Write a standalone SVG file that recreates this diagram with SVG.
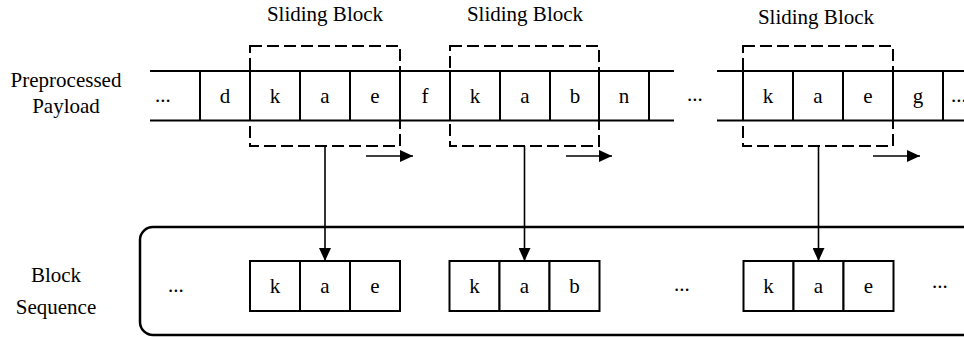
<svg xmlns="http://www.w3.org/2000/svg" width="964" height="337" viewBox="0 0 964 337">
<defs>
<style>
text{font-family:"Liberation Serif","Times New Roman",serif;font-size:21px;fill:#000;text-anchor:middle}
.dots{text-anchor:start}
.ln{stroke:#000;stroke-width:2;fill:none}
.cell{stroke:#000;stroke-width:2;fill:#fff}
.dash{stroke:#000;stroke-width:2;fill:none;stroke-dasharray:12 5}
.conn{stroke:#000;stroke-width:1.6;fill:none}
</style>
<marker id="ah" viewBox="0 0 13 12" refX="13" refY="6" markerWidth="13" markerHeight="12" markerUnits="userSpaceOnUse" orient="auto">
<path d="M0,0 L13,6 L0,12 Z" fill="#000"/>
</marker>
</defs>
<rect width="964" height="337" fill="#fff"/>

<g id="label-payload">
<text x="66" y="87">Preprocessed</text>
<text x="66" y="113">Payload</text>
</g>
<g id="label-sequence">
<text x="56" y="282">Block</text>
<text x="56" y="314">Sequence</text>
</g>

<g id="payload-strip">
<line class="ln" x1="150" y1="71" x2="674" y2="71"/>
<line class="ln" x1="150" y1="120.5" x2="674" y2="120.5"/>
<line class="ln" x1="717" y1="71" x2="964" y2="71"/>
<line class="ln" x1="717" y1="120.5" x2="964" y2="120.5"/>
<path class="ln" d="M200,71V120.5 M250,71V120.5 M300,71V120.5 M350,71V120.5 M400,71V120.5 M450,71V120.5 M500,71V120.5 M550,71V120.5 M599,71V120.5 M649,71V120.5 M743,71V120.5 M793,71V120.5 M843,71V120.5 M893,71V120.5 M943,71V120.5"/>
<text class="dots" x="155" y="102">...</text>
<text x="225" y="103">d</text>
<text x="275" y="103">k</text>
<text x="325" y="103">a</text>
<text x="375" y="103">e</text>
<text x="425" y="103">f</text>
<text x="475" y="103">k</text>
<text x="525" y="103">a</text>
<text x="575" y="103">b</text>
<text x="624" y="103">n</text>
<text class="dots" x="687" y="101">...</text>
<text x="768" y="103">k</text>
<text x="818" y="103">a</text>
<text x="868" y="103">e</text>
<text x="918" y="103">g</text>
<text class="dots" x="951" y="102">...</text>
</g>

<g id="sliding-block-1">
<rect class="dash" x="250" y="46" width="150" height="100"/>
<text x="325" y="21">Sliding Block</text>
<line class="conn" x1="366" y1="156" x2="413" y2="156" marker-end="url(#ah)"/>
</g>
<g id="sliding-block-2">
<rect class="dash" x="450" y="46" width="149" height="100"/>
<text x="525" y="21">Sliding Block</text>
<line class="conn" x1="566" y1="156" x2="612" y2="156" marker-end="url(#ah)"/>
</g>
<g id="sliding-block-3">
<rect class="dash" x="743" y="46" width="150" height="100"/>
<text x="816" y="24">Sliding Block</text>
<line class="conn" x1="873" y1="156" x2="920" y2="156" marker-end="url(#ah)"/>
</g>

<g id="block-sequence">
<rect x="140" y="227" width="850" height="108" rx="13" ry="13" fill="none" stroke="#000" stroke-width="2.5"/>
<text class="dots" x="168" y="292">...</text>
<text class="dots" x="674" y="291">...</text>
<text class="dots" x="932" y="288">...</text>
</g>
<g id="seq-block-1">
<rect class="cell" x="250" y="261" width="50" height="50"/>
<rect class="cell" x="300" y="261" width="50" height="50"/>
<rect class="cell" x="350" y="261" width="50" height="50"/>
<text x="275" y="293">k</text>
<text x="325" y="293">a</text>
<text x="375" y="293">e</text>
</g>
<g id="seq-block-2">
<rect class="cell" x="449.5" y="261" width="50" height="50"/>
<rect class="cell" x="499.5" y="261" width="50" height="50"/>
<rect class="cell" x="549.5" y="261" width="50" height="50"/>
<text x="474.5" y="293">k</text>
<text x="524.5" y="293">a</text>
<text x="574.5" y="293">b</text>
</g>
<g id="seq-block-3">
<rect class="cell" x="743.5" y="261" width="50" height="50"/>
<rect class="cell" x="793.5" y="261" width="50" height="50"/>
<rect class="cell" x="843.5" y="261" width="50" height="50"/>
<text x="768.5" y="293">k</text>
<text x="818.5" y="293">a</text>
<text x="868.5" y="293">e</text>
</g>

<g id="connectors">
<line class="conn" x1="325" y1="146" x2="325" y2="261" marker-end="url(#ah)"/>
<line class="conn" x1="524.5" y1="146" x2="524.5" y2="261" marker-end="url(#ah)"/>
<line class="conn" x1="818.5" y1="146" x2="818.5" y2="261" marker-end="url(#ah)"/>
</g>
</svg>
